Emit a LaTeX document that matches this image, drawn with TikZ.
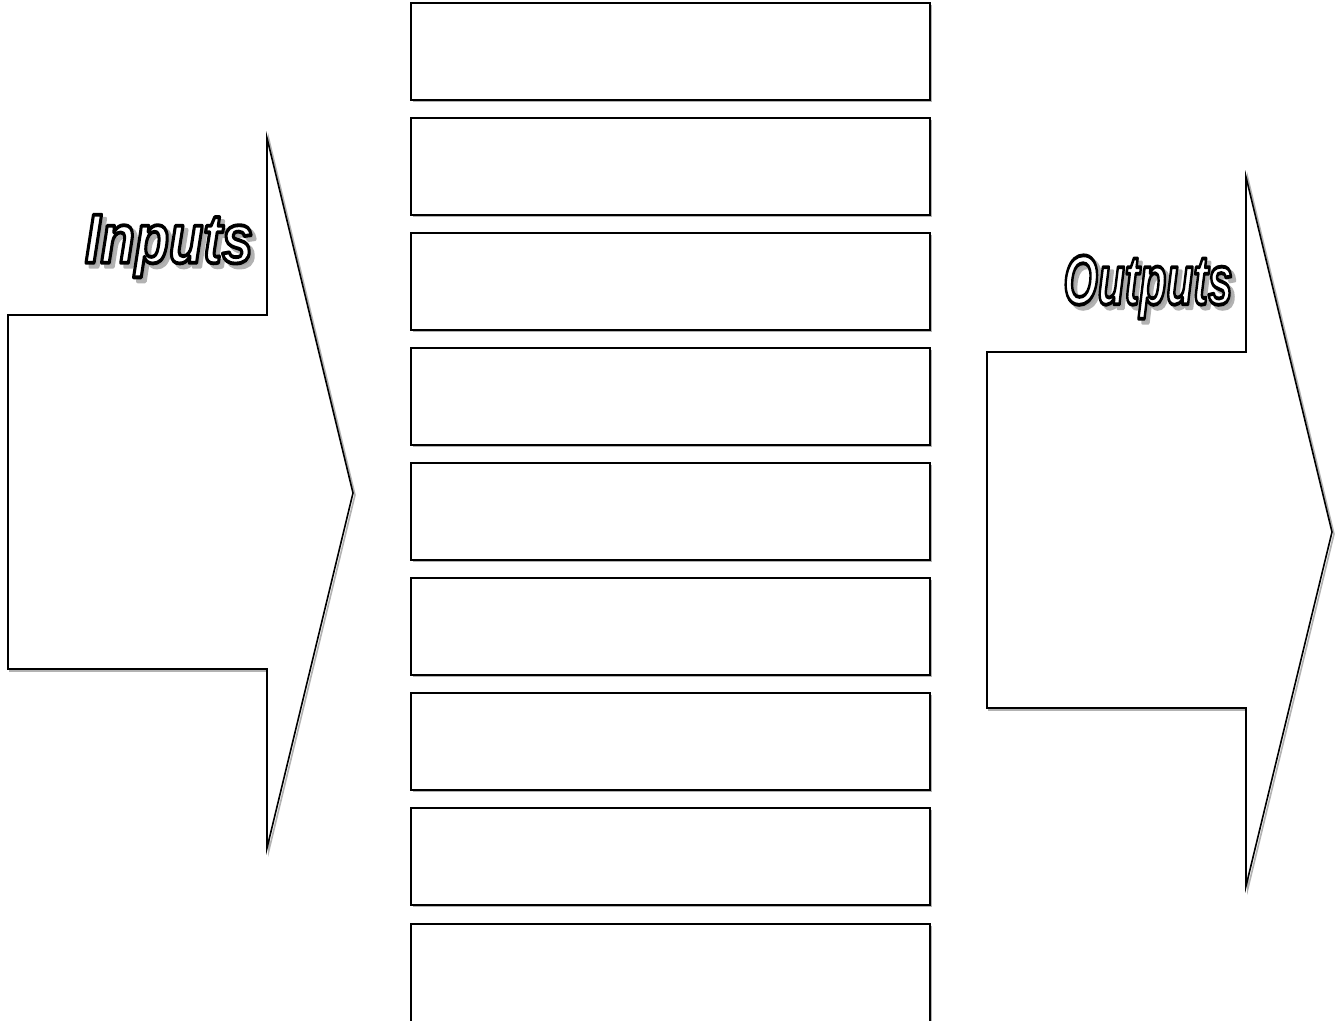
\documentclass[tikz,border=0pt]{standalone}
\usepackage{fontspec}
\setmainfont{Liberation Sans}
\newcommand\wordfont{\fontsize{70}{80}\selectfont\bfseries\itshape}
\newcommand\strokedtext[2]{\special{pdf:literal direct 2 Tr 3.8 w 1 j #1 RG}#2\special{pdf:literal direct 0 Tr 1 w}}
\newcommand\outlineword[5]{% name, x, y, xscale, text
  \node[text=gray!70, font=\wordfont, xscale=#4, transform shape] (#1shadow) at (#2+4,#3+4) {\strokedtext{0.7 0.7 0.7}{#5}};
  \node[text=white, font=\wordfont, xscale=#4, transform shape] (#1) at (#2,#3) {\strokedtext{0 0 0}{#5}};
}
\begin{document}
\begin{tikzpicture}[x=1pt,y=-1pt,
  cell/.style={draw=black, fill=white, line width=1.8pt, minimum width=519, minimum height=97, inner sep=0pt, outer sep=0pt},
  cellshadow/.style={fill=gray!60, minimum width=519, minimum height=97, inner sep=0pt, outer sep=0pt},
  bigarrow/.style={draw=black, fill=white, line width=1.6pt, line join=miter}]
\useasboundingbox (0,0) rectangle (1335,1020);
\clip (0,0) rectangle (1335,1020);
% left arrow
\draw[gray!60, line width=1.6pt] (10,317) -- (269,317) -- (269,140) -- (355,495) -- (269,850) -- (269,671) -- (10,671) -- cycle;
\draw[bigarrow] (8,315) -- (267,315) -- (267,138) -- (353,493) -- (267,848) -- (267,669) -- (8,669) -- cycle;
% right arrow
\draw[gray!60, line width=1.6pt] (989,354) -- (1248,354) -- (1248,179) -- (1334,534) -- (1248,888) -- (1248,710) -- (989,710) -- cycle;
\draw[bigarrow] (987,352) -- (1246,352) -- (1246,177) -- (1332,532) -- (1246,886) -- (1246,708) -- (987,708) -- cycle;
% boxes
\foreach \i in {0,...,7}{
  \node[cellshadow] at (672.5,53.5+115*\i) {};
  \node[cell] (box\i) at (670.5,51.5+115*\i) {};
}
% last box runs off the bottom edge
\node[cellshadow, minimum height=110] at (672.5,981) {};
\node[cell, minimum height=110] (box8) at (670.5,979) {};
% labels
\outlineword{inputs}{169}{246}{0.8}{Inputs}
\outlineword{outputs}{1148}{287}{0.63}{Outputs}
\end{tikzpicture}
\end{document}
